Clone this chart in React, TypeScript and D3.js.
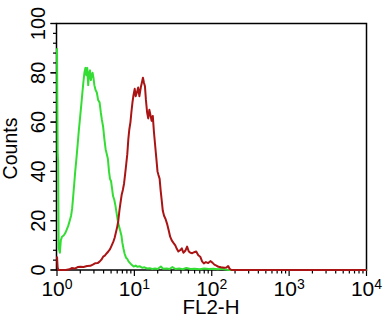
import * as d3 from 'd3';
import React, { useEffect, useRef } from 'react';

const width = 391;
const height = 327;

// FL2-H value, counts
const isotypeCurve: [number, number][] = [
    [1.0, 90], [1.02, 47], [1.035, 44], [1.05, 9], [1.09, 7], [1.12, 12], [1.16, 13.5],
    [1.22, 14], [1.28, 15], [1.34, 16.5], [1.4, 18], [1.46, 20], [1.52, 22], [1.57, 25],
    [1.62, 30], [1.67, 35], [1.72, 40], [1.78, 45], [1.85, 51], [1.92, 57], [1.99, 62],
    [2.06, 67], [2.13, 72], [2.19, 76], [2.26, 80], [2.33, 82], [2.4, 79], [2.46, 82],
    [2.53, 75], [2.6, 80], [2.67, 81], [2.74, 77], [2.81, 79], [2.88, 80], [2.96, 78],
    [3.04, 75], [3.15, 73], [3.27, 72], [3.4, 69], [3.55, 68], [3.68, 64], [3.8, 61],
    [3.95, 58], [4.1, 53], [4.25, 49], [4.4, 47], [4.55, 45], [4.7, 40], [4.84, 37],
    [5.0, 36], [5.15, 33], [5.3, 30], [5.5, 28.5], [5.7, 26], [5.9, 23], [6.1, 20],
    [6.3, 18], [6.55, 16], [6.8, 14], [7.0, 11], [7.25, 8.5], [7.5, 6.5], [7.8, 5],
    [8.1, 4.5], [8.4, 3.5], [8.8, 2.8], [9.3, 2], [9.8, 1.4], [10.4, 1.8], [11.0, 1.3],
    [11.8, 1.5], [12.6, 0.9], [13.5, 1.1], [14.6, 0.6], [15.8, 0.7], [17.0, 0.4],
    [18.5, 0.6], [20.0, 0.4], [22.0, 1.4], [23.5, 0.5], [26.0, 0.6], [28.5, 0.4],
    [31.0, 1.2], [34.0, 0.4], [38.0, 0.6], [42.0, 0.3], [47.0, 0.8], [53.0, 0.4],
    [60.0, 0.5], [70.0, 0.3], [80.0, 0.6], [92.0, 0.4], [105, 0.5], [120, 0.3],
    [135, 0.5], [150, 0.2], [165, 0], [10000, 0],
];

const stainedCurve: [number, number][] = [
    [1.0, 5.5], [1.02, 1], [1.04, 0], [1.3, 0], [1.45, 0.3], [1.55, 0.8], [1.7, 0.6],
    [1.85, 1.2], [2.0, 1.3], [2.2, 1.2], [2.45, 1.6], [2.7, 1.7], [2.9, 2.2], [3.1, 2.7],
    [3.35, 2.8], [3.55, 3.4], [3.75, 4.2], [3.95, 5.4], [4.15, 5.8], [4.4, 6.8], [4.6, 7.5],
    [4.85, 8.5], [5.1, 10], [5.35, 11.5], [5.55, 13], [5.8, 15.5], [6.0, 17.5], [6.2, 20],
    [6.4, 24], [6.6, 27], [6.85, 30.5], [7.1, 32.5], [7.35, 35], [7.6, 39], [7.85, 43],
    [8.1, 47], [8.35, 53], [8.6, 57], [8.9, 60], [9.15, 64], [9.45, 68], [9.75, 71],
    [10.1, 73.5], [10.4, 70.5], [10.8, 72], [11.2, 74], [11.6, 70.5], [12.1, 74],
    [12.6, 76.5], [12.9, 78], [13.3, 76], [13.7, 74.5], [14.1, 69], [14.6, 64],
    [15.1, 61.5], [15.6, 65], [16.1, 63], [16.7, 60.5], [17.3, 62.5], [17.9, 56],
    [18.5, 51], [19.2, 45.5], [19.9, 40], [20.5, 38.5], [21.2, 37], [21.9, 32],
    [22.6, 28], [23.3, 24], [24.2, 22], [25.4, 20.5], [26.6, 18.5], [27.8, 16],
    [29.0, 13.5], [30.4, 12], [32.0, 11], [33.8, 10], [35.5, 8.5], [37.0, 7.5],
    [39.0, 8], [41.0, 8.8], [43.0, 7], [45.5, 7.8], [48.0, 9.5], [50.5, 7.5], [53.0, 7],
    [56.0, 6.8], [59.0, 7.2], [63.0, 7.5], [67.0, 6], [71.0, 5.4], [75.0, 3.5], [79.0, 2.7],
    [84.0, 3.2], [90.0, 2.8], [96.0, 3.6], [102, 3], [108, 2.2], [115, 1.8], [122, 1.3],
    [132, 1.1], [145, 0.9], [155, 1.0], [163, 1.6], [170, 0.5], [180, 0], [10000, 0],
];

const xTickValues = [1, 10, 100, 1000, 10000];
const xTickExponents = ['0', '1', '2', '3', '4'];
const yTickValues = [0, 20, 40, 60, 80, 100];

const font = '"Liberation Sans", Arial, sans-serif';

export default function App() {
    const svgRef = useRef<SVGSVGElement | null>(null);

    useEffect(() => {
        if (!svgRef.current) return;
        const svg = d3.select(svgRef.current);
        svg.selectAll('*').remove(); // <-- clear previous

        const x = d3.scaleLog().domain([1, 10000]).range([57, 366.5]);
        const y = d3.scaleLinear().domain([0, 100]).range([270, 23.5]);

        svg.append('rect')
            .attr('width', width).attr('height', height).attr('fill', 'white');

        // frame
        svg.append('rect')
            .attr('x', 56.5).attr('y', y(100))
            .attr('width', 366.5 - 56.5).attr('height', y(0) - y(100))
            .attr('fill', 'none').attr('stroke', 'black').attr('stroke-width', 1.5);

        // y ticks, minor every 4
        const yTicks = d3.range(0, 101, 4).concat(yTickValues);
        svg.append('g').selectAll('line').data(yTicks).join('line')
            .attr('x1', d => 56.5 - (d % 20 === 0 ? 6 : 3.5)).attr('x2', 56.5)
            .attr('y1', d => y(d)).attr('y2', d => y(d))
            .attr('stroke', 'black').attr('stroke-width', 1.2);

        // x ticks, log minors
        const xMinor: number[] = [];
        for (let k = 0; k < 4; k++) for (let m = 2; m < 10; m++) xMinor.push(m * Math.pow(10, k));
        svg.append('g').selectAll('line').data(xMinor).join('line')
            .attr('x1', d => x(d)).attr('x2', d => x(d))
            .attr('y1', y(0)).attr('y2', y(0) + 3.5)
            .attr('stroke', 'black').attr('stroke-width', 1.2);
        svg.append('g').selectAll('line').data(xTickValues).join('line')
            .attr('x1', d => x(d)).attr('x2', d => x(d))
            .attr('y1', y(0)).attr('y2', y(0) + 6)
            .attr('stroke', 'black').attr('stroke-width', 1.2);

        // y labels
        svg.append('g').selectAll('text').data(yTickValues).join('text')
            .attr('transform', d => `translate(45,${y(d)}) rotate(-90)`)
            .attr('text-anchor', 'middle')
            .attr('font-family', font).attr('font-size', 20)
            .text(d => String(d));

        // x labels 10^n
        const xl = svg.append('g').selectAll('text').data(xTickValues).join('text')
            .attr('x', d => x(d)).attr('y', 296)
            .attr('text-anchor', 'middle')
            .attr('font-family', font);
        xl.append('tspan').attr('font-size', 21).text('10');
        xl.append('tspan').attr('font-size', 14).attr('dy', -7).text((_d, i) => xTickExponents[i]);

        svg.append('text')
            .attr('transform', 'translate(17,148.5) rotate(-90)')
            .attr('text-anchor', 'middle')
            .attr('font-family', font).attr('font-size', 19.5)
            .text('Counts');

        svg.append('text')
            .attr('x', 211).attr('y', 314)
            .attr('text-anchor', 'middle')
            .attr('font-family', font).attr('font-size', 20.5)
            .text('FL2-H');

        const line = d3.line<[number, number]>()
            .x(d => x(d[0]))
            .y(d => y(d[1]));

        svg.append('path')
            .attr('fill', 'none').attr('stroke', '#33dd33').attr('stroke-width', 2)
            .attr('stroke-linejoin', 'round')
            .attr('d', line(isotypeCurve));

        svg.append('path')
            .attr('fill', 'none').attr('stroke', '#aa1414').attr('stroke-width', 2)
            .attr('stroke-linejoin', 'round')
            .attr('d', line(stainedCurve));
    }, []);

    return (
        <svg ref={svgRef} width={width} height={height}
            style={{ position: 'absolute', left: 0, top: 0 }} />
    );
}
